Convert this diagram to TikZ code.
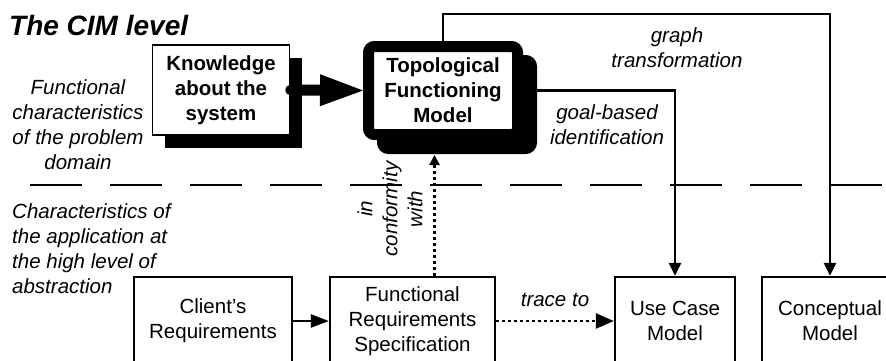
\documentclass[tikz,border=0pt]{standalone}
\usepackage{fontspec}
\setmainfont{Liberation Sans}
\usetikzlibrary{arrows.meta, shadows}

\begin{document}
\begin{tikzpicture}[x=1pt, y=1pt,
    every node/.style={font=\fontsize{20.5}{25}\selectfont, align=center, inner sep=0pt},
    note/.style={font=\fontsize{20.5}{25}\selectfont\itshape},
    box/.style={draw, line width=2.4pt, minimum height=88pt},
    conn/.style={line width=2.6pt, -{Triangle[length=13pt,width=12pt]}},
    trace/.style={conn, dash pattern=on 3pt off 3pt}]
    \useasboundingbox (0,0) rectangle (886,360);

    % Separator
    \draw[line width=2.6pt, dash pattern=on 52pt off 28pt] (30,175) -- (886,175);

    %Nodes
    \node[anchor=base west, font=\fontsize{28}{32}\selectfont\bfseries\itshape] (title) at (9,325) {The CIM level};
    \node[note] (funcchar) at (78,235.5) {Functional\\characteristics\\of the problem\\domain};
    \node[draw, line width=1.8pt, fill=white, minimum width=137pt, minimum height=90pt,
        font=\fontsize{20.5}{25}\selectfont\bfseries,
        drop shadow={shadow xshift=12pt, shadow yshift=-13pt, fill=black, opacity=1}] (know) at (221,270) {Knowledge\\about the\\system};
    \node[draw, line width=11pt, rounded corners=6pt, fill=white, minimum width=149pt, minimum height=88pt,
        font=\fontsize{20.5}{25}\selectfont\bfseries,
        drop shadow={shadow xshift=14pt, shadow yshift=-14pt, fill=black, draw=black, line width=11pt, opacity=1}] (tfm) at (443,269.5) {Topological\\Functioning\\Model};
    \coordinate (tfmbot) at ([yshift=-15pt]tfm.south);
    \node[note] (graph) at (677,312) {graph\\transformation};
    \node[note] (goal) at (607,235) {goal-based\\identification};
    \node[note, anchor=west, align=left] (appchar) at (12,111.5) {Characteristics of\\the application at\\the high level of\\abstraction};
    \node[note, rotate=90] (conform) at (390,151) {in\\conformity\\with};

    \node[box, line width=1.4pt, minimum width=158pt] (client) at (213,39) {Client’s\\Requirements};
    \node[box, minimum width=165pt] (frs) at (412.5,39) {Functional\\Requirements\\Specification};
    \node[box, minimum width=120pt] (ucm) at (675,39) {Use Case\\Model};
    \node[box, minimum width=136pt] (cm) at (830,39) {Conceptual\\Model};
    \node[note] (traceto) at (555,60) {trace to};

    % Edges
    \draw[line width=11pt, {Circle[length=10pt]}-{Triangle[length=43pt,width=32pt,line width=0pt]}] ([xshift=-5pt]know.east) -- (tfm.west);
    \draw[conn] (tfm.north) -- ++(0,27) -| (cm.north);
    \draw[conn] (tfm.east) -| (ucm.north);
    \draw[conn, -{Triangle[length=18pt,width=13pt]}] (client) -- (frs);
    \draw[trace, -{Triangle[length=18pt,width=15pt]}] (frs) -- (ucm);
    \draw[trace, -{Triangle[length=10pt,width=10pt]}] ([xshift=22pt]frs.north) -- ([xshift=22pt]frs.north |- tfmbot);

\end{tikzpicture}
\end{document}
